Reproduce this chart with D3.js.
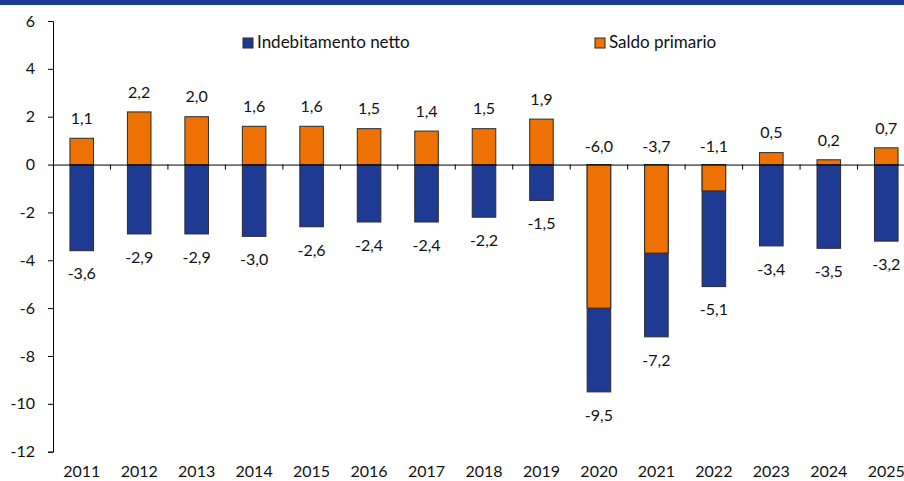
<!DOCTYPE html>
<html>
<head>
<meta charset="utf-8">
<script src="https://cdn.jsdelivr.net/npm/d3@7/dist/d3.min.js"></script>
<style>
  html, body { margin: 0; padding: 0; background: #fff; }
  svg { display: block; font-family: Lato, "Open Sans", sans-serif; }
</style>
</head>
<body>
<script>
const
  YEARS = ['2011', '2012', '2013', '2014', '2015', '2016', '2017', '2018',
    '2019', '2020', '2021', '2022', '2023', '2024', '2025'],
  INDEBITAMENTO = [-3.6, -2.9, -2.9, -3.0, -2.6, -2.4, -2.4, -2.2, -1.5,
    -9.5, -7.2, -5.1, -3.4, -3.5, -3.2],
  SALDO = [1.1, 2.2, 2.0, 1.6, 1.6, 1.5, 1.4, 1.5, 1.9,
    -6.0, -3.7, -1.1, 0.5, 0.2, 0.7],
  Y_TICKS = [-12, -10, -8, -6, -4, -2, 0, 2, 4, 6],
  SERIES = ['Indebitamento netto', 'Saldo primario'];

const
  WIDTH = 904,
  HEIGHT = 481,
  BLUE = '#1f3a93',
  ORANGE = '#ee7203',
  OUTLINE = '#2b2b2b',
  FONT_SIZE = 16;

const fmt = (v) => v.toFixed(1).replace('.', ',');

let svg = d3.select('body').append('svg')
  .attr('width', WIDTH)
  .attr('height', HEIGHT);

svg.append('rect')
  .attr('width', WIDTH).attr('height', HEIGHT).attr('fill', '#fff');

// top band
svg.append('rect')
  .attr('x', 0).attr('y', 0)
  .attr('width', WIDTH).attr('height', 5)
  .attr('fill', BLUE);

let x = d3.scaleBand().domain(YEARS).range([53, 915]).padding(0);
let y = d3.scaleLinear().domain([-12, 6]).range([451.7, 21]);

let barW = x.step() * 0.41;
let cx = (d) => x(d) + x.step() / 2;

// blue bars first, orange drawn over them
let data = YEARS.map((yr, i) => ({ yr, ind : INDEBITAMENTO[i], sal : SALDO[i] }));

svg.append('g').selectAll('rect')
  .data(data)
  .enter()
  .append('rect')
  .attr('x', (d) => cx(d.yr) - barW / 2)
  .attr('width', barW)
  .attr('y', (d) => y(Math.max(0, d.ind)))
  .attr('height', (d) => Math.abs(y(d.ind) - y(0)))
  .attr('fill', BLUE)
  .attr('stroke', OUTLINE)
  .attr('stroke-width', 1);

svg.append('g').selectAll('rect')
  .data(data)
  .enter()
  .append('rect')
  .attr('x', (d) => cx(d.yr) - barW / 2)
  .attr('width', barW)
  .attr('y', (d) => y(Math.max(0, d.sal)))
  .attr('height', (d) => Math.abs(y(d.sal) - y(0)))
  .attr('fill', ORANGE)
  .attr('stroke', OUTLINE)
  .attr('stroke-width', 1);

// y axis
let yAxis = svg.append('g')
  .attr('transform', 'translate(53,0)')
  .call(d3.axisLeft(y).tickValues(Y_TICKS).tickSize(5).tickPadding(13).tickFormat((d) => String(d)));

yAxis.select('.domain').attr('stroke', '#000');
yAxis.selectAll('.tick line').attr('stroke', '#000');
yAxis.selectAll('text')
  .attr('font-family', 'Lato, sans-serif')
  .attr('font-size', FONT_SIZE)
  .attr('fill', '#111');

// x axis along zero, ticks at category boundaries
let xAxis = svg.append('g')
  .attr('transform', `translate(0,${y(0)})`)
  .call(d3.axisBottom(x).tickSize(0).tickFormat(''));

xAxis.select('.domain').attr('stroke', '#000');

svg.append('g').selectAll('line')
  .data(YEARS.slice(1))
  .enter()
  .append('line')
  .attr('x1', (d) => x(d))
  .attr('x2', (d) => x(d))
  .attr('y1', y(0))
  .attr('y2', y(0) + 5)
  .attr('stroke', '#000');

// year labels at the bottom
svg.append('g').selectAll('text')
  .data(YEARS)
  .enter()
  .append('text')
  .attr('x', (d) => cx(d))
  .attr('y', 477)
  .attr('text-anchor', 'middle')
  .attr('font-size', FONT_SIZE)
  .attr('fill', '#111')
  .text((d) => d);

// value labels
let labels = svg.append('g')
  .attr('font-size', FONT_SIZE)
  .attr('fill', '#111')
  .attr('text-anchor', 'middle');

labels.selectAll('.lab-ind')
  .data(data)
  .enter()
  .append('text')
  .attr('class', 'lab-ind')
  .attr('x', (d) => cx(d.yr))
  .attr('y', (d) => y(d.ind) + 23)
  .attr('dy', '0.36em')
  .text((d) => fmt(d.ind));

labels.selectAll('.lab-sal')
  .data(data)
  .enter()
  .append('text')
  .attr('class', 'lab-sal')
  .attr('x', (d) => cx(d.yr))
  .attr('y', (d) => (d.sal >= 0 ? y(d.sal) - 20 : y(0) - 18))
  .attr('dy', '0.36em')
  .text((d) => fmt(d.sal));

// legend
let legend = svg.append('g');
let legendPos = [243, 595];

SERIES.forEach((name, i) => {
  let g = legend.append('g').attr('transform', `translate(${legendPos[i]},38)`);

  g.append('rect')
    .attr('width', 10).attr('height', 10)
    .attr('fill', i === 0 ? BLUE : ORANGE)
    .attr('stroke', OUTLINE);

  g.append('text')
    .attr('x', 14)
    .attr('y', 10)
    .attr('font-size', 17)
    .attr('fill', '#111')
    .text(name);
});
</script>
</body>
</html>
